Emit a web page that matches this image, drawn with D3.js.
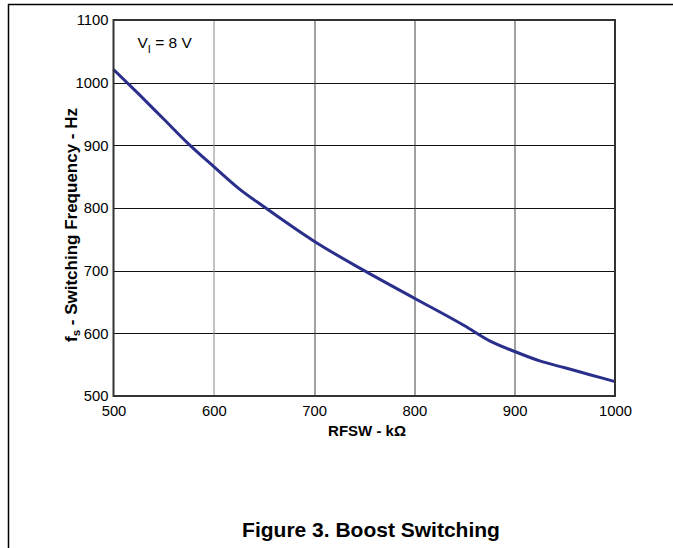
<!DOCTYPE html>
<html>
<head>
<meta charset="utf-8">
<script src="https://cdn.jsdelivr.net/npm/d3@7"></script>
<style>
  body { margin: 0; background: #fff; }
  text { font-family: "Liberation Sans", Arial, sans-serif; }
</style>
</head>
<body>
<svg id="chart" width="673" height="548"></svg>
<script>
// RFSW (kOhm) vs switching frequency (Hz)
var rfsw = [500, 525, 550, 575, 600, 625, 650, 700, 750, 800, 850, 875, 900, 925, 950, 975, 1000];
var freq = [1021, 982, 942, 902, 866, 831, 802, 747, 700, 656, 612, 588, 571, 556, 545, 534, 523];
var xTicks = [500, 600, 700, 800, 900, 1000];
var yTicks = [500, 600, 700, 800, 900, 1000, 1100];

var margin = {top: 20, left: 113.5, right: 58, bottom: 152};
var width = 673 - margin.left - margin.right;
var height = 548 - margin.top - margin.bottom;

var svg = d3.select("#chart");

// page frame lines (top and left)
svg.append("line").attr("x1", 8).attr("x2", 673).attr("y1", 4.5).attr("y2", 4.5)
  .attr("stroke", "#000").attr("stroke-width", 1.5);
svg.append("line").attr("x1", 8.5).attr("x2", 8.5).attr("y1", 4).attr("y2", 548)
  .attr("stroke", "#000").attr("stroke-width", 1.5);

var g = svg.append("g").attr("transform", "translate(" + margin.left + "," + margin.top + ")");

var x = d3.scaleLinear().domain([500, 1000]).range([0, width]);
var y = d3.scaleLinear().domain([500, 1100]).range([height, 0]);

// grid
g.selectAll(".hgrid").data(yTicks.slice(1, -1)).enter().append("line")
  .attr("x1", 0).attr("x2", width)
  .attr("y1", d => Math.round(y(d)) + 0.5).attr("y2", d => Math.round(y(d)) + 0.5)
  .attr("stroke", "#111").attr("stroke-width", 1);
g.selectAll(".vgrid").data(xTicks.slice(1, -1)).enter().append("line")
  .attr("x1", d => Math.round(x(d)) + 0.5).attr("x2", d => Math.round(x(d)) + 0.5)
  .attr("y1", 0).attr("y2", height)
  .attr("stroke", d => d == 600 ? "#888" : "#444").attr("stroke-width", 1);

// curve
var line = d3.line().x((d, i) => x(rfsw[i])).y(d => y(d)).curve(d3.curveMonotoneX);
g.append("path").datum(freq).attr("d", line)
  .attr("fill", "none").attr("stroke", "#2a2f8c").attr("stroke-width", 3);

// frame
g.append("rect").attr("x", 0).attr("y", 0).attr("width", width).attr("height", height)
  .attr("fill", "none").attr("stroke", "#333").attr("stroke-width", 2);

// axes labels
var xAxis = d3.axisBottom(x).tickValues(xTicks).tickSize(0).tickPadding(9).tickFormat(d3.format("d"));
g.append("g").attr("transform", "translate(0," + height + ")").call(xAxis)
  .call(a => a.select(".domain").remove())
  .selectAll("text").attr("font-size", 14.8).attr("fill", "#000")
  .style("font-family", "'Liberation Sans', Arial, sans-serif");

var yAxis = d3.axisLeft(y).tickValues(yTicks).tickSize(0).tickPadding(5).tickFormat(d3.format("d"));
g.append("g").call(yAxis)
  .call(a => a.select(".domain").remove())
  .selectAll("text").attr("font-size", 14.8).attr("fill", "#000")
  .style("font-family", "'Liberation Sans', Arial, sans-serif");

// x title
g.append("text").attr("x", 367 - margin.left).attr("y", 436 - margin.top)
  .attr("text-anchor", "middle").attr("font-size", 15).attr("font-weight", "bold")
  .text("RFSW - k\u03A9");

// y title
var yt = svg.append("text")
  .attr("transform", "translate(77,225) rotate(-90)")
  .attr("text-anchor", "middle").attr("font-size", 17).attr("font-weight", "bold");
yt.append("tspan").text("f");
yt.append("tspan").attr("font-size", 11.5).attr("dy", 3).text("s");
yt.append("tspan").attr("dy", -3).text(" - Switching Frequency - Hz");

// annotation
var ann = g.append("text").attr("x", 137.5 - margin.left).attr("y", 47.5 - margin.top).attr("font-size", 15.5);
ann.append("tspan").text("V");
ann.append("tspan").attr("font-size", 11).attr("dy", 5).text("I");
ann.append("tspan").attr("dy", -5).text(" = 8 V");

// figure caption
svg.append("text").attr("x", 371).attr("y", 537)
  .attr("text-anchor", "middle").attr("font-size", 21).attr("font-weight", "bold")
  .text("Figure 3. Boost Switching");
</script>
</body>
</html>
